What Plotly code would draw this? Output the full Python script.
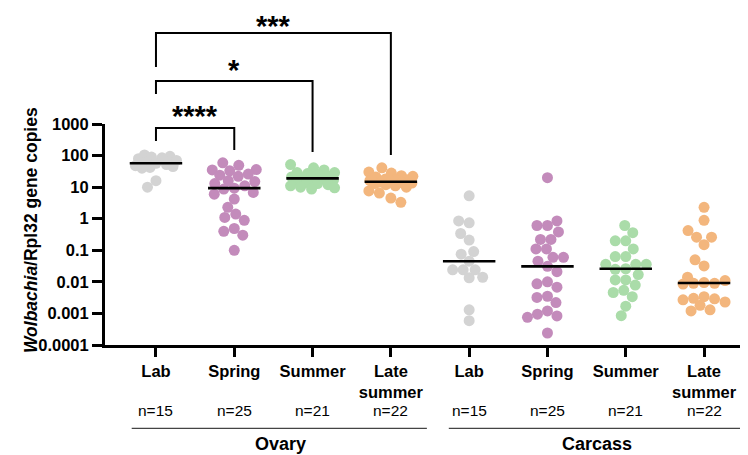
import numpy as np
import plotly.graph_objects as go

# ---------------- data ----------------
seasons = ["Lab", "Spring", "Summer", "Late summer"]
tissues = ["Ovary", "Carcass"]
tick_labels = ["Lab", "Spring", "Summer", "Late<br>summer"] * 2
n_labels = ["n=15", "n=25", "n=21", "n=22", "n=15", "n=25", "n=21", "n=22"]
y_tick_vals = [0.0001, 0.001, 0.01, 0.1, 1, 10, 100, 1000]
y_tick_text = ["0.0001", "0.001", "0.01", "0.1", "1", "10", "100", "1000"]

ovary_lab = [105, 95, 90, 85, 80, 70, 62, 57, 52, 48, 45, 42, 40, 16, 10]
ovary_spring = [59, 49, 36, 35, 33, 26, 24, 22, 16, 15, 13, 11, 9.3, 8.7, 6.8,
                6.0, 4.2, 2.3, 1.4, 1.1, 0.89, 0.49, 0.40, 0.30, 0.10]
ovary_summer = [52, 41, 35, 29, 29, 27, 25, 22, 21, 20, 19, 18, 17, 16, 14,
                13, 12, 11, 10, 9.5, 8.7]
ovary_late = [41, 30, 28, 23, 22, 21, 18, 17, 17, 16, 15, 14.5, 14, 13.5, 13,
              12, 11, 10, 7.6, 6.5, 4.5, 3.3]
carcass_lab = [5.3, 0.85, 0.74, 0.34, 0.21, 0.091, 0.075, 0.045, 0.024, 0.024,
               0.024, 0.014, 0.0135, 0.0013, 0.00059]
carcass_spring = [20, 0.85, 0.61, 0.61, 0.38, 0.22, 0.22, 0.11, 0.11, 0.06,
                  0.06, 0.045, 0.031, 0.021, 0.010, 0.0087, 0.0068, 0.0035,
                  0.0032, 0.0022, 0.0012, 0.00095, 0.00083, 0.00075, 0.00024]
carcass_summer = [0.61, 0.36, 0.20, 0.20, 0.11, 0.063, 0.063, 0.036, 0.036,
                  0.036, 0.026, 0.025, 0.017, 0.0115, 0.0115, 0.0079, 0.0054,
                  0.0046, 0.0034, 0.0017, 0.00085]
carcass_late = [2.3, 0.89, 0.42, 0.26, 0.26, 0.15, 0.05, 0.032, 0.014, 0.011,
                0.0095, 0.009, 0.009, 0.0085, 0.0034, 0.003, 0.0029, 0.0027,
                0.0023, 0.0018, 0.0013, 0.0012]

groups = [ovary_lab, ovary_spring, ovary_summer, ovary_late,
          carcass_lab, carcass_spring, carcass_summer, carcass_late]

# comparisons: (group a, group b, label)
comparisons = [(0, 1, "****"), (0, 2, "*"), (0, 3, "***")]

# ---------------- style ----------------
season_colors = ["#d3d3d3", "#c38bbb", "#aadca9", "#f3b67d"]
# the page adds an 8px body margin, so the figure is 8px smaller and margins shifted
W, H = 740, 447
M = dict(l=97, r=3, t=116, b=110)
x_range = [-0.651, 7.523]
y_range = [-4, 3]
plot_w = W - M["l"] - M["r"]
plot_h = H - M["t"] - M["b"]
px_per_x = plot_w / (x_range[1] - x_range[0])
px_per_dec = plot_h / (y_range[1] - y_range[0])
FONT = "Liberation Sans, Arial, sans-serif"


def swarm(vals, dmin=10.5, maxw=22.0):
    """Beeswarm offsets (in data x units) computed from the values."""
    ys = np.log10(np.asarray(vals, float)) * px_per_dec
    med = np.median(ys)
    order = np.argsort(np.abs(ys - med), kind="stable")
    cands = np.arange(-maxw, maxw + 0.25, 0.5)
    cands = cands[np.argsort(np.abs(cands), kind="stable")]
    px, py = [], []
    offs = np.zeros(len(ys))
    for i in order:
        if not px:
            x = 0.0
        else:
            dist = np.sqrt((cands[:, None] - np.array(px)[None, :]) ** 2 +
                           (ys[i] - np.array(py)[None, :]) ** 2).min(axis=1)
            ok = dist >= dmin
            x = cands[ok][0] if ok.any() else cands[np.argmax(dist)]
        px.append(x)
        py.append(ys[i])
        offs[i] = x
    return offs / px_per_x


fig = go.Figure()
for gi, vals in enumerate(groups):
    offs = swarm(vals)
    fig.add_trace(go.Scatter(
        x=gi + offs, y=vals, mode="markers",
        marker=dict(size=11, color=season_colors[gi % 4], line=dict(width=0)),
        showlegend=False, hoverinfo="y"))
# medians
for gi, vals in enumerate(groups):
    m = float(np.median(vals))
    fig.add_trace(go.Scatter(
        x=[gi - 0.335, gi + 0.335], y=[m, m], mode="lines",
        line=dict(color="black", width=2.6), showlegend=False, hoverinfo="skip"))

shapes = []
annotations = []
# significance brackets (paper y positions)
bracket_tops = [0.982, 1.195, 1.412]
bracket_left_ends = [0.923, 1.136, 1.258]
bracket_right_ends = [0.882, 0.873, 0.860]
star_y = [1.034, 1.246, 1.445]
for k, (a, b, lab) in enumerate(comparisons):
    path = (f"M {a},{bracket_left_ends[k]} L {a},{bracket_tops[k]} "
            f"L {b},{bracket_tops[k]} L {b},{bracket_right_ends[k]}")
    shapes.append(dict(type="path", xref="x", yref="paper", path=path,
                       line=dict(color="black", width=2)))
    annotations.append(dict(x=(a + b) / 2, y=star_y[k], xref="x", yref="paper",
                            text=lab, showarrow=False, yanchor="middle",
                            font=dict(size=29, color="black", family=FONT,
                                      weight="bold")))

# n labels
for gi, t in enumerate(n_labels):
    annotations.append(dict(x=gi, y=-0.295, xref="x", yref="paper", text=t,
                            showarrow=False, yanchor="middle",
                            font=dict(size=15.5, color="black", family=FONT)))

# tissue group lines and labels
group_spans = [(-0.31, 3.46), (3.74, 7.48)]
for (x0, x1), t in zip(group_spans, tissues):
    shapes.append(dict(type="line", xref="x", yref="paper", x0=x0, x1=x1,
                       y0=-0.377, y1=-0.377, line=dict(color="#444", width=1.2)))
    annotations.append(dict(x=(x0 + x1) / 2 + 0.02, y=-0.448, xref="x", yref="paper",
                            text=t, showarrow=False, yanchor="middle",
                            font=dict(size=18, color="black", family=FONT,
                                      weight="bold")))

# y axis title
annotations.append(dict(x=0, y=0.52, xref="paper", yref="paper", xshift=-74,
                        text="<i>Wolbachia</i>/Rpl32 gene copies", textangle=-90,
                        showarrow=False, xanchor="center", yanchor="middle",
                        font=dict(size=17.5, color="black", family=FONT,
                                  weight="bold")))

fig.update_layout(
    width=W, height=H, margin=M,
    paper_bgcolor="white", plot_bgcolor="white",
    font=dict(family=FONT, color="black"),
    shapes=shapes, annotations=annotations,
    xaxis=dict(range=x_range, tickmode="array", tickvals=list(range(8)),
               ticktext=tick_labels, ticks="outside", ticklen=9, tickwidth=3,
               tickcolor="black", showline=True, linewidth=3, linecolor="black",
               showgrid=False, zeroline=False, automargin=False,
               tickfont=dict(size=16.5, color="black", family=FONT, weight="bold")),
    yaxis=dict(type="log", range=y_range, tickmode="array", tickvals=y_tick_vals,
               ticktext=y_tick_text, ticks="outside", ticklen=10, tickwidth=3,
               tickcolor="black", showline=True, linewidth=3, linecolor="black",
               showgrid=False, zeroline=False, automargin=False,
               tickfont=dict(size=16.5, color="black", family=FONT, weight="bold")),
)

fig.write_html("out.html")
